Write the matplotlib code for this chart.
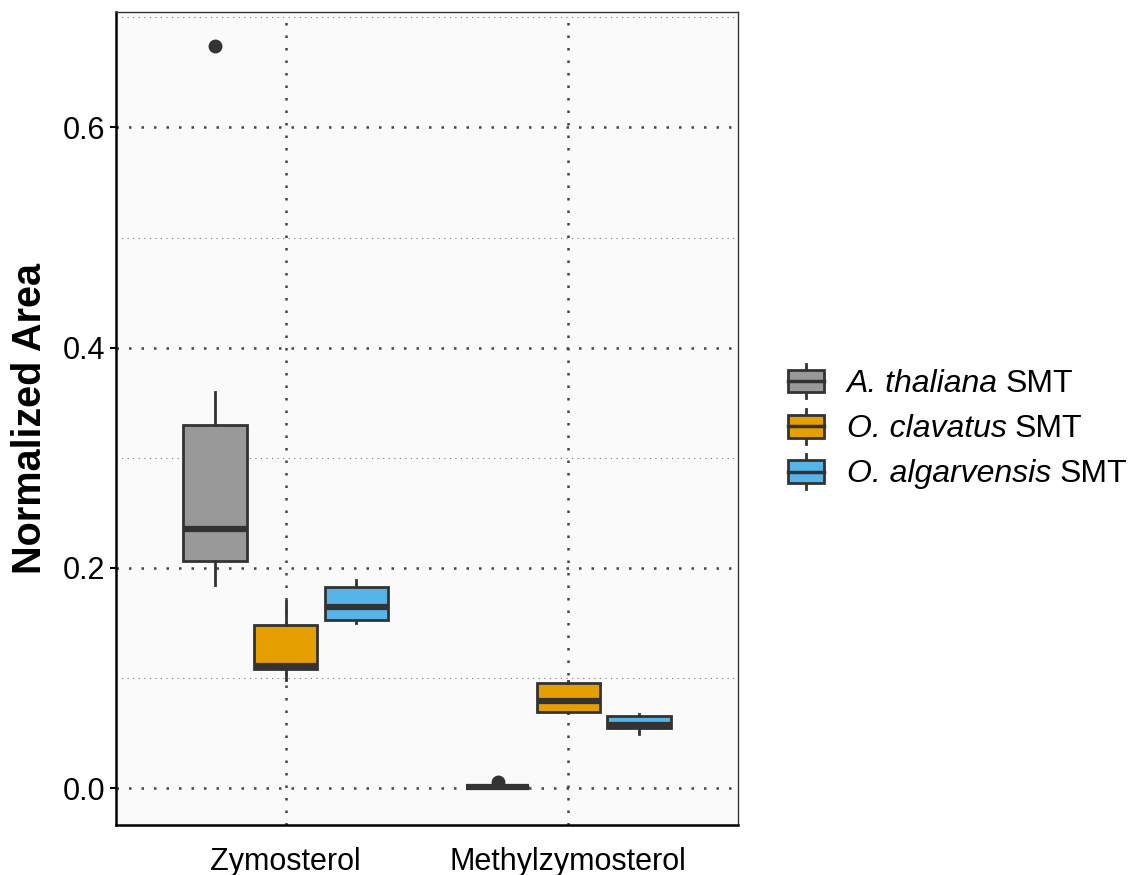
import matplotlib
matplotlib.use("Agg")
import matplotlib.pyplot as plt
from matplotlib.patches import Patch, Rectangle
from matplotlib.lines import Line2D
from matplotlib.legend_handler import HandlerBase

plt.rcParams['font.family'] = ['Liberation Sans', 'DejaVu Sans']

categories = ["Zymosterol", "Methylzymosterol"]
species = ["A. thaliana", "O. clavatus", "O. algarvensis"]
colors = ["#999999", "#E69F00", "#56B4E9"]

# five-number summaries per species, one entry per category
whislo = {"A. thaliana": [0.1845, 0.0000],
          "O. clavatus": [0.0980, 0.0680],
          "O. algarvensis": [0.1500, 0.0490]}
q1 = {"A. thaliana": [0.2064, 0.0008],
      "O. clavatus": [0.1082, 0.0690],
      "O. algarvensis": [0.1527, 0.0548]}
med = {"A. thaliana": [0.2352, 0.0010],
       "O. clavatus": [0.1112, 0.0788],
       "O. algarvensis": [0.1642, 0.0578]}
q3 = {"A. thaliana": [0.3294, 0.0012],
      "O. clavatus": [0.1482, 0.0957],
      "O. algarvensis": [0.1824, 0.0657]}
whishi = {"A. thaliana": [0.3597, 0.0020],
          "O. clavatus": [0.1703, 0.0970],
          "O. algarvensis": [0.1890, 0.0670]}
fliers = {"A. thaliana": [[0.6736], [0.0055]],
          "O. clavatus": [[], []],
          "O. algarvensis": [[], []]}

EDGE = "#333333"

fig = plt.figure(figsize=(11.31, 8.75), dpi=100)
ax = fig.add_axes([0.1026, 0.0577, 0.5499, 0.9289])
ax.set_facecolor("#FAFAFA")
ax.set_axisbelow(True)

offsets = [-0.25, 0.0, 0.25]
for s, (sp, col) in enumerate(zip(species, colors)):
    stats = []
    for c in range(len(categories)):
        stats.append(dict(whislo=whislo[sp][c], q1=q1[sp][c], med=med[sp][c],
                          q3=q3[sp][c], whishi=whishi[sp][c], fliers=fliers[sp][c]))
    pos = [c + 1 + offsets[s] for c in range(len(categories))]
    ax.bxp(stats, positions=pos, widths=0.225, patch_artist=True, showcaps=False,
           boxprops=dict(facecolor=col, edgecolor=EDGE, linewidth=2),
           whiskerprops=dict(color=EDGE, linewidth=2),
           medianprops=dict(color=EDGE, linewidth=4.5, solid_capstyle="butt"),
           flierprops=dict(marker="o", markerfacecolor=EDGE, markeredgecolor=EDGE,
                           markersize=9), zorder=3)

ax.set_xlim(0.4, 2.6)
ax.set_ylim(-0.0329, 0.705)
ax.set_xticks([1, 2])
ax.set_xticklabels(categories)
ax.set_yticks([0.0, 0.2, 0.4, 0.6])
ax.set_yticklabels(["0.0", "0.2", "0.4", "0.6"])
ax.set_yticks([0.1, 0.3, 0.5, 0.7], minor=True)

ax.grid(True, which="major", axis="both", color="#444444", linewidth=1.8,
        linestyle=(0, (1, 4)))
ax.grid(True, which="minor", axis="y", color="#777777", linewidth=0.8,
        linestyle=(0, (1, 4)))

ax.tick_params(axis="y", which="major", labelsize=22, length=4.5, width=1.5,
               color="black", pad=3, labelcolor="black")
ax.tick_params(axis="y", which="minor", length=0)
ax.tick_params(axis="x", labelsize=22, length=0, pad=16, labelcolor="black")

ax.set_ylabel("Normalized Area", fontsize=28.5, fontweight="bold", labelpad=10)

for side in ["left", "bottom"]:
    ax.spines[side].set_linewidth(1.8)
    ax.spines[side].set_color("black")
for side in ["top", "right"]:
    ax.spines[side].set_linewidth(1.0)
    ax.spines[side].set_color("#333333")


class BoxHandler(HandlerBase):
    def create_artists(self, legend, orig_handle, xdescent, ydescent,
                       width, height, fontsize, trans):
        fc = orig_handle.get_facecolor()
        x0, y0 = -xdescent, -ydescent
        bh = height * 0.66
        by = y0 + (height - bh) / 2
        xm = x0 + width / 2
        arts = [
            Line2D([xm, xm], [y0, y0 + height], color=EDGE, lw=2),
            Rectangle((x0, by), width, bh, facecolor=fc, edgecolor=EDGE, lw=2),
            Line2D([x0, x0 + width], [y0 + height / 2] * 2, color=EDGE, lw=2.5),
        ]
        for a in arts:
            a.set_transform(trans)
        return arts


handles = [Patch(facecolor=c) for c in colors]
leg = fig.legend(handles, species, handler_map={Patch: BoxHandler()},
                 loc="center left", bbox_to_anchor=(0.6965, 0.5126), frameon=False,
                 fontsize=23, borderpad=0, borderaxespad=0,
                 handlelength=1.15, handleheight=1.3, labelspacing=0.32,
                 handletextpad=0.7, prop=dict(style="italic", size=23))

# the " SMT" suffix is upright, so it is added after each italic label
fig.canvas.draw()
renderer = fig.canvas.get_renderer()
inv = fig.transFigure.inverted()
for t in leg.get_texts():
    bb = t.get_window_extent(renderer)
    x, y = inv.transform((bb.x1 + 8, bb.y0))
    fig.text(x, y, "SMT", fontsize=23, va="bottom", ha="left")

fig.savefig("out.png", dpi=100)
